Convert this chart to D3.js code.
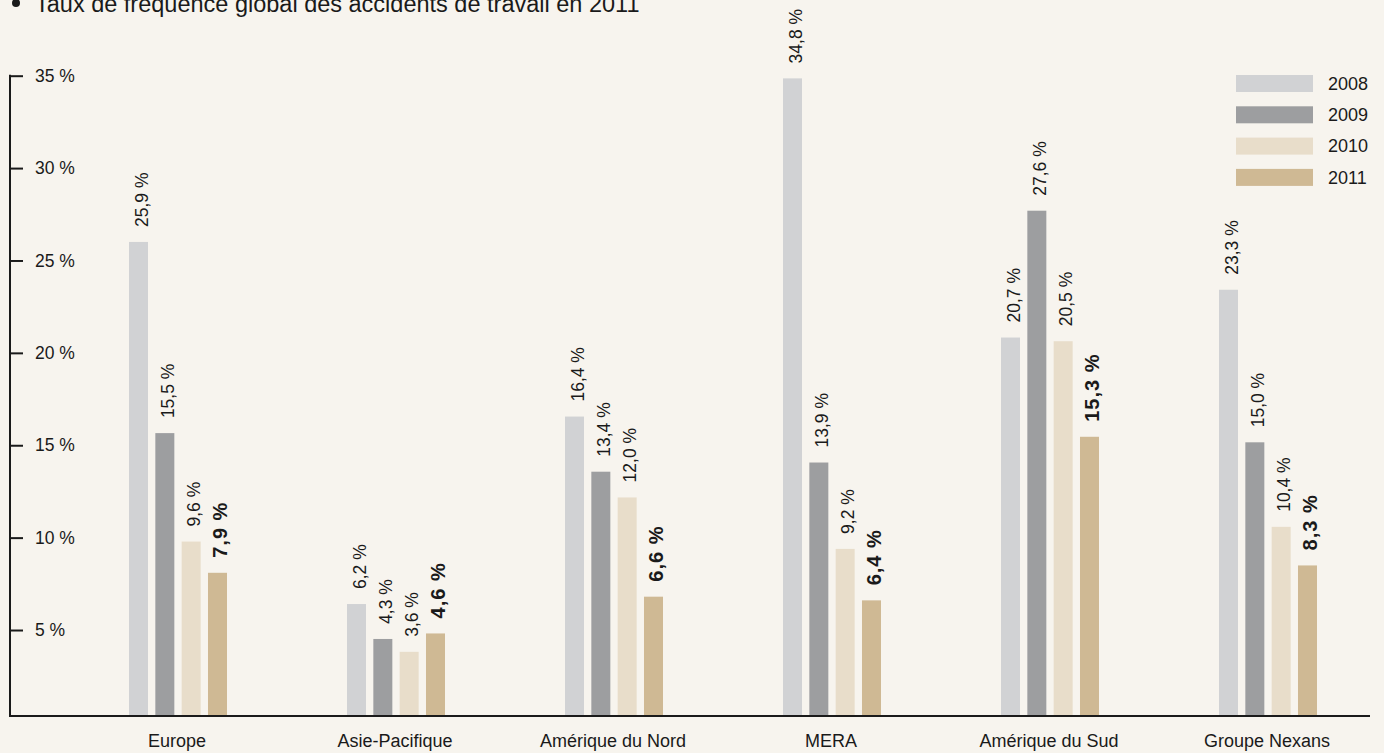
<!DOCTYPE html>
<html>
<head>
<meta charset="utf-8">
<script src="https://cdn.jsdelivr.net/npm/d3@7"></script>
<style>
  html, body { margin: 0; padding: 0; background: #f7f4ee; }
  svg { display: block; }
  text { font-family: "Liberation Sans", Arial, sans-serif; fill: #1a1a1a; }
</style>
</head>
<body>
<svg id="chart" width="1384" height="753"></svg>
<script>
const categories = ["Europe", "Asie-Pacifique", "Amérique du Nord", "MERA", "Amérique du Sud", "Groupe Nexans"];
const years = ["2008", "2009", "2010", "2011"];
const values2008 = [25.9, 6.2, 16.4, 34.8, 20.7, 23.3];
const values2009 = [15.5, 4.3, 13.4, 13.9, 27.6, 15.0];
const values2010 = [9.6, 3.6, 12.0, 9.2, 20.5, 10.4];
const values2011 = [7.9, 4.6, 6.6, 6.4, 15.3, 8.3];
const tickValues = [5, 10, 15, 20, 25, 30, 35];
const colors = ["#d1d2d4", "#9d9ea0", "#e8ddca", "#cfb994"];
const title = "Taux de fréquence global des accidents de travail en 2011";

const series = [values2008, values2009, values2010, values2011];
const fmt = v => v.toFixed(1).replace(".", ",") + " %";

const svg = d3.select("#chart");
svg.append("rect").attr("width", 1384).attr("height", 753).attr("fill", "#f7f4ee");

// scales
const x0 = d3.scaleBand().domain(categories).range([69, 69 + 6 * 218]).padding(0);
const x1 = d3.scaleBand().domain(years).range([-49, 49]).paddingInner(0.278).paddingOuter(0);
const yBar = d3.scaleLinear().domain([0, 35]).range([718, 718 - 35 * 18.38]);
const yAxisScale = d3.scaleLinear().domain([0, 35]).range([722.4, 75.7]);
const baseY = 716;

// title
svg.append("circle").attr("cx", 16).attr("cy", 3).attr("r", 4).attr("fill", "#1a1a1a");
svg.append("text").attr("x", 35).attr("y", 12).attr("font-size", 23.5).text(title);

// axis
const axis = d3.axisLeft(yAxisScale).tickValues(tickValues).tickSize(0).tickFormat(d => d + " %");
const gAxis = svg.append("g").attr("transform", "translate(10,0)").call(axis);
gAxis.select(".domain").remove();
gAxis.selectAll(".tick text").attr("x", 25).attr("text-anchor", "start")
  .attr("font-size", 17.5).attr("font-family", "Liberation Sans, Arial, sans-serif").attr("fill", "#1a1a1a");
gAxis.selectAll(".tick line").attr("x1", 0).attr("x2", 13).attr("stroke", "#1a1a1a").attr("stroke-width", 2);
svg.append("line").attr("x1", 10).attr("x2", 10).attr("y1", yAxisScale(35) - 1).attr("y2", baseY + 1)
  .attr("stroke", "#1a1a1a").attr("stroke-width", 2);

// bars
const groups = svg.append("g").selectAll("g").data(categories).join("g")
  .attr("transform", d => `translate(${x0(d) + x0.bandwidth() / 2},0)`);

years.forEach((yr, si) => {
  groups.append("rect")
    .attr("x", x1(yr))
    .attr("width", x1.bandwidth())
    .attr("y", (d, i) => yBar(series[si][i]))
    .attr("height", (d, i) => baseY - yBar(series[si][i]))
    .attr("fill", colors[si]);
  groups.append("text")
    .attr("transform", (d, i) => `translate(${x1(yr) + x1.bandwidth() - 0.5},${yBar(series[si][i]) - 15}) rotate(-90)`)
    .attr("font-size", si === 3 ? 20 : 17.5)
    .attr("font-weight", si === 3 ? "bold" : "normal")
    .attr("letter-spacing", si === 3 ? 1 : 0)
    .text((d, i) => fmt(series[si][i]));
});

// baseline
svg.append("line").attr("x1", 10).attr("x2", 1370).attr("y1", baseY).attr("y2", baseY)
  .attr("stroke", "#1a1a1a").attr("stroke-width", 2);

// category labels
svg.append("g").selectAll("text").data(categories).join("text")
  .attr("x", d => x0(d) + x0.bandwidth() / 2 - 1)
  .attr("y", 747)
  .attr("text-anchor", "middle")
  .attr("font-size", 18)
  .text(d => d);

// legend
const legend = svg.append("g").selectAll("g").data(years).join("g")
  .attr("transform", (d, i) => `translate(1236,${75 + i * 31.3})`);
legend.append("rect").attr("width", 77).attr("height", 17).attr("fill", (d, i) => colors[i]);
legend.append("text").attr("x", 92).attr("y", 8.5).attr("dy", "0.35em").attr("font-size", 18).text(d => d);
</script>
</body>
</html>
